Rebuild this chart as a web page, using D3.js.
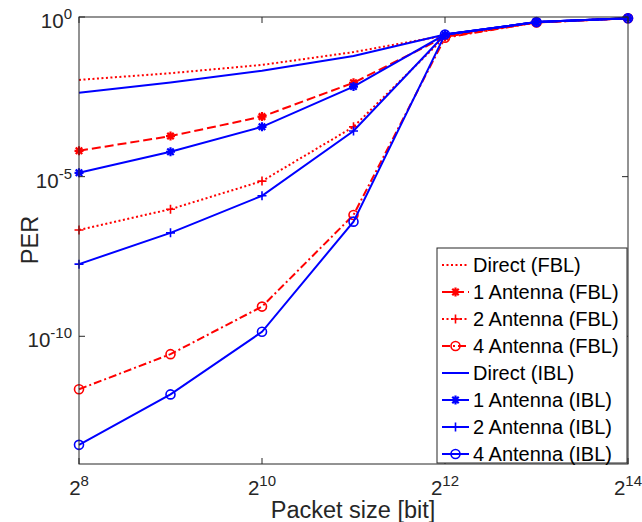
<!DOCTYPE html>
<html><head><meta charset="utf-8">
<script src="https://cdn.jsdelivr.net/npm/d3@7"></script>
<style>body{margin:0;background:#fff}svg{display:block}text{font-family:"Liberation Sans",Arial,sans-serif;fill:#262626}</style>
</head><body>
<script>
const packetSizes = [256, 512, 1024, 2048, 4096, 8192, 16384];
const seriesNames = ["Direct (FBL)","1 Antenna (FBL)","2 Antenna (FBL)","4 Antenna (FBL)","Direct (IBL)","1 Antenna (IBL)","2 Antenna (IBL)","4 Antenna (IBL)"];
// log10(PER)
const directFBL = [-1.97, -1.76, -1.50, -1.10, -0.58, -0.16, -0.04];
const ant1FBL   = [-4.19, -3.73, -3.12, -2.06, -0.62, -0.17, -0.04];
const ant2FBL   = [-6.67, -6.02, -5.14, -3.44, -0.62, -0.17, -0.04];
const ant4FBL   = [-11.66, -10.56, -9.07, -6.20, -0.65, -0.17, -0.04];
const directIBL = [-2.37, -2.05, -1.68, -1.22, -0.55, -0.16, -0.04];
const ant1IBL   = [-4.88, -4.22, -3.44, -2.18, -0.55, -0.16, -0.04];
const ant2IBL   = [-7.74, -6.76, -5.60, -3.57, -0.55, -0.16, -0.04];
const ant4IBL   = [-13.40, -11.82, -9.86, -6.41, -0.55, -0.16, -0.04];
const xTickExps = [8, 10, 12, 14];
const yTickExps = [0, -5, -10];

const series = [
  {name: seriesNames[0], v: directFBL, color: "#ff0000", dash: "2,2.5", marker: null},
  {name: seriesNames[1], v: ant1FBL, color: "#ff0000", dash: "9,4", marker: "star"},
  {name: seriesNames[2], v: ant2FBL, color: "#ff0000", dash: "2,2.5", marker: "plus"},
  {name: seriesNames[3], v: ant4FBL, color: "#ff0000", dash: "8,3,2,3", marker: "circle"},
  {name: seriesNames[4], v: directIBL, color: "#0000ff", dash: null, marker: null},
  {name: seriesNames[5], v: ant1IBL, color: "#0000ff", dash: null, marker: "star"},
  {name: seriesNames[6], v: ant2IBL, color: "#0000ff", dash: null, marker: "plus"},
  {name: seriesNames[7], v: ant4IBL, color: "#0000ff", dash: null, marker: "circle"}
];

const W = 642, H = 522;
const L = 79, R = 628, T = 17, B = 464;
const svg = d3.select("body").append("svg").attr("width", W).attr("height", H);
const x = d3.scaleLog().base(2).domain([256, 16384]).range([L, R]);
const y = d3.scaleLog().domain([1e-14, 1]).range([B, T]);

const line = d3.line().x(d => x(d[0])).y(d => y(Math.pow(10, d[1])));

function drawMarker(g, type, cx, cy, color) {
  if (type === "circle") {
    g.append("circle").attr("cx", cx).attr("cy", cy).attr("r", 4.5)
      .attr("fill", "none").attr("stroke", color).attr("stroke-width", 1.6);
  } else if (type === "plus") {
    g.append("path").attr("d", `M${cx-4.5},${cy}H${cx+4.5}M${cx},${cy-4.5}V${cy+4.5}`)
      .attr("stroke", color).attr("stroke-width", 1.6);
  } else if (type === "star") {
    const r = 4.5, d2 = r * 0.72;
    g.append("path").attr("d", `M${cx-r},${cy}H${cx+r}M${cx},${cy-r}V${cy+r}M${cx-d2},${cy-d2}L${cx+d2},${cy+d2}M${cx-d2},${cy+d2}L${cx+d2},${cy-d2}`)
      .attr("stroke", color).attr("stroke-width", 2.2);
  }
}

const plot = svg.append("g");
series.forEach(s => {
  const pts = packetSizes.map((p, i) => [p, s.v[i]]);
  plot.append("path").attr("d", line(pts)).attr("fill", "none")
    .attr("stroke", s.color).attr("stroke-width", 2)
    .attr("stroke-dasharray", s.dash);
  if (s.marker) pts.forEach(p => drawMarker(plot, s.marker, x(p[0]), y(Math.pow(10, p[1])), s.color));
});

// axes box
const axc = "#262626";
svg.append("rect").attr("x", L).attr("y", T).attr("width", R - L).attr("height", B - T)
  .attr("fill", "none").attr("stroke", axc).attr("stroke-width", 1);

// ticks
xTickExps.forEach(e => {
  const px = x(Math.pow(2, e));
  svg.append("line").attr("x1", px).attr("x2", px).attr("y1", B).attr("y2", B - 6).attr("stroke", axc);
  svg.append("line").attr("x1", px).attr("x2", px).attr("y1", T).attr("y2", T + 6).attr("stroke", axc);
  const t = svg.append("text").attr("x", px).attr("y", 495).attr("text-anchor", "middle").style("font-size", "20.5px");
  t.append("tspan").text("2");
  t.append("tspan").attr("dy", -9).style("font-size", "15px").text(e);
});
yTickExps.forEach(e => {
  const py = y(Math.pow(10, e));
  svg.append("line").attr("x1", L).attr("x2", L + 6).attr("y1", py).attr("y2", py).attr("stroke", axc);
  svg.append("line").attr("x1", R).attr("x2", R - 6).attr("y1", py).attr("y2", py).attr("stroke", axc);
  const t = svg.append("text").attr("x", 72).attr("y", py + 11).attr("text-anchor", "end").style("font-size", "20.5px");
  t.append("tspan").text("10");
  t.append("tspan").attr("dy", -9).style("font-size", "15px").text(e === 0 ? "0" : e);
});

svg.append("text").attr("x", 353).attr("y", 518).attr("text-anchor", "middle").style("font-size", "23.5px").text("Packet size [bit]");
svg.append("text").attr("transform", "translate(38,240) rotate(-90)").attr("text-anchor", "middle").style("font-size", "23.5px").text("PER");

// legend
const lg = svg.append("g");
const lx0 = 437, ly0 = 248, lx1 = 627, ly1 = 463;
lg.append("rect").attr("x", lx0).attr("y", ly0).attr("width", lx1 - lx0).attr("height", ly1 - ly0)
  .attr("fill", "#fff").attr("stroke", axc).attr("stroke-width", 1);
series.forEach((s, i) => {
  const cy = 265 + i * 27;
  lg.append("line").attr("x1", 442).attr("x2", 469).attr("y1", cy).attr("y2", cy)
    .attr("stroke", s.color).attr("stroke-width", 2).attr("stroke-dasharray", s.dash);
  if (s.marker) drawMarker(lg, s.marker, 455.5, cy, s.color);
  lg.append("text").attr("x", 473).attr("y", cy + 7).style("font-size", "20px").style("fill", "#000").text(s.name);
});
</script>
</body></html>
